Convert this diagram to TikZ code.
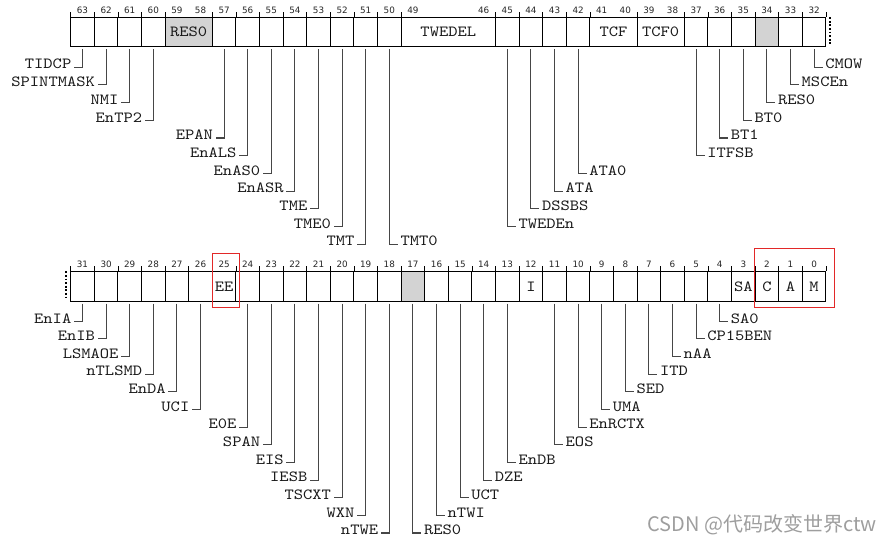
\documentclass[tikz,border=0pt]{standalone}
\usepackage{fontspec}
\newfontfamily\numfont{DejaVu Sans}
\newfontfamily\cjkfont{Noto Sans CJK SC}
\newfontfamily\regmono{lmmono10-regular}[Extension=.otf,FakeStretch=1.14]
\definecolor{greycell}{RGB}{211,211,211}
\definecolor{leadcol}{RGB}{70,70,70}
\definecolor{redline}{RGB}{226,40,40}
\newcommand{\regfont}{\regmono\fontsize{15.5}{15.5}\selectfont}
\begin{document}
\begin{tikzpicture}[x=1pt,y=-1pt,
  cellline/.style={draw=black,line width=0.9pt},
  lead/.style={draw=leadcol,line width=1.1pt},
  lbl/.style={font=\regfont,inner sep=2.5pt,text=black!90},
  fld/.style={font=\regfont,inner sep=0pt,text=black!90},
  bitnum/.style={font=\numfont\fontsize{8.8}{8.8}\selectfont,inner sep=0pt,text=black!85},
  tickline/.style={draw=black,line width=0.6pt},
  redbox/.style={draw=redline,line width=0.9pt},
  dotline/.style={draw=black,line width=2pt,dash pattern=on 1.8pt off 1.8pt}]
\useasboundingbox (0,0) rectangle (880,545);
\def\W{23.6}
\def\X{70.7}
\def\Ta{17.3}
\def\Tb{46.7}
\def\Ba{271.3}
\def\Bb{301}
% ---------------- top register (63..32) ----------------
\fill[greycell] ({\X+4*\W},\Ta) rectangle ({\X+6*\W},\Tb);
\fill[greycell] ({\X+29*\W},\Ta) rectangle ({\X+30*\W},\Tb);
\draw[cellline] (\X,\Ta) rectangle ({\X+32*\W},\Tb);
\foreach \i in {1,2,3,4,6,7,8,9,10,11,12,13,14,18,19,20,21,22,24,26,27,28,29,30,31}
  \draw[cellline] ({\X+\i*\W},\Ta) -- ({\X+\i*\W},\Tb);
\foreach \i in {0,1,2,3,4,6,7,8,9,10,11,12,13,14,18,19,20,21,22,24,26,27,28,29,30,31,32}
  \draw[tickline] ({\X+\i*\W},{\Ta-5}) -- ({\X+\i*\W},\Ta);
\foreach \b in {63,62,61,60,59,58,57,56,55,54,53,52,51,50,49,46,45,44,43,42,41,40,39,38,37,36,35,34,33,32}
  \node[bitnum] (tn\b) at ({\X+(63-\b+0.5)*\W},10.7) {\b};
\node[fld] (fRESa) at ({\X+5*\W},32) {RES0};
\node[fld] (fTWEDEL) at ({\X+16*\W},32) {TWEDEL};
\node[fld] (fTCF) at ({\X+23*\W},32) {TCF};
\node[fld] (fTCFz) at ({\X+25*\W},32) {TCF0};
\draw[dotline] (830,17.3) -- (830,44.5);
% leaders, left side
\foreach \b/\t/\k in {63/TIDCP/1,62/SPINTMASK/2,61/NMI/3,60/EnTP2/4,57/EPAN/5,56/EnALS/6,55/EnAS0/7,54/EnASR/8,53/TME/9,52/TME0/10,51/TMT/11}{
  \coordinate (tc\b) at ({\X+(63-\b+0.5)*\W},49.5);
  \node[lbl,anchor=base east] (tl\b) at ({\X+(63-\b+0.5)*\W-8.5},{69+(\k-1)*17.7}) {\t};
  \draw[lead] (tc\b) |- ([yshift=1.8pt]tl\b.base east);
}
% leaders, right side
\foreach \b/\t/\k in {50/TMT0/11,45/TWEDEn/10,44/DSSBS/9,43/ATA/8,42/ATA0/7,37/ITFSB/6,36/BT1/5,35/BT0/4,34/RES0/3,33/MSCEn/2,32/CMOW/1}{
  \coordinate (tc\b) at ({\X+(63-\b+0.5)*\W},49.5);
  \node[lbl,anchor=base west] (tl\b) at ({\X+(63-\b+0.5)*\W+8.5},{69+(\k-1)*17.7}) {\t};
  \draw[lead] (tc\b) |- ([yshift=1.8pt]tl\b.base west);
}
% ---------------- bottom register (31..0) ----------------
\fill[greycell] ({\X+14*\W},\Ba) rectangle ({\X+15*\W},\Bb);
\draw[cellline] (\X,\Ba) rectangle ({\X+32*\W},\Bb);
\foreach \i in {1,...,31}
  \draw[cellline] ({\X+\i*\W},\Ba) -- ({\X+\i*\W},\Bb);
\foreach \i in {0,...,32}
  \draw[tickline] ({\X+\i*\W},{\Ba-5}) -- ({\X+\i*\W},\Ba);
\foreach \b in {31,...,0}
  \node[bitnum] (bn\b) at ({\X+(31-\b+0.5)*\W},264.7) {\b};
\node[fld] (fEE) at ({\X+6.5*\W},286.5) {EE};
\node[fld] (fI) at ({\X+19.5*\W},286.5) {I};
\node[fld] (fSA) at ({\X+28.5*\W},286.5) {SA};
\node[fld] (fC) at ({\X+29.5*\W},286.5) {C};
\node[fld] (fA) at ({\X+30.5*\W},286.5) {A};
\node[fld] (fM) at ({\X+31.5*\W},286.5) {M};
\draw[dotline] (66,271.3) -- (66,299.5);
\foreach \b/\t/\k in {31/EnIA/1,30/EnIB/2,29/LSMAOE/3,28/nTLSMD/4,27/EnDA/5,26/UCI/6,24/E0E/7,23/SPAN/8,22/EIS/9,21/IESB/10,20/TSCXT/11,19/WXN/12,18/nTWE/13}{
  \coordinate (bc\b) at ({\X+(31-\b+0.5)*\W},303.5);
  \node[lbl,anchor=base east] (bl\b) at ({\X+(31-\b+0.5)*\W-8.5},{323+(\k-1)*17.65}) {\t};
  \draw[lead] (bc\b) |- ([yshift=1.8pt]bl\b.base east);
}
\foreach \b/\t/\k in {17/RES0/13,16/nTWI/12,15/UCT/11,14/DZE/10,13/EnDB/9,11/EOS/8,10/EnRCTX/7,9/UMA/6,8/SED/5,7/ITD/4,6/nAA/3,5/CP15BEN/2,4/SA0/1}{
  \coordinate (bc\b) at ({\X+(31-\b+0.5)*\W},303.5);
  \node[lbl,anchor=base west] (bl\b) at ({\X+(31-\b+0.5)*\W+8.5},{323+(\k-1)*17.65}) {\t};
  \draw[lead] (bc\b) |- ([yshift=1.8pt]bl\b.base west);
}
% red highlight boxes
\draw[redbox] (212.3,253.3) rectangle (239.3,307.3);
\draw[redbox] (754.3,248.3) rectangle (834.5,307.7);
% watermark
\node[font=\cjkfont\fontsize{20}{20}\selectfont,text=black!38,anchor=east,inner sep=0pt] (wm) at (877,525) {CSDN @代码改变世界ctw};
\end{tikzpicture}
\end{document}
